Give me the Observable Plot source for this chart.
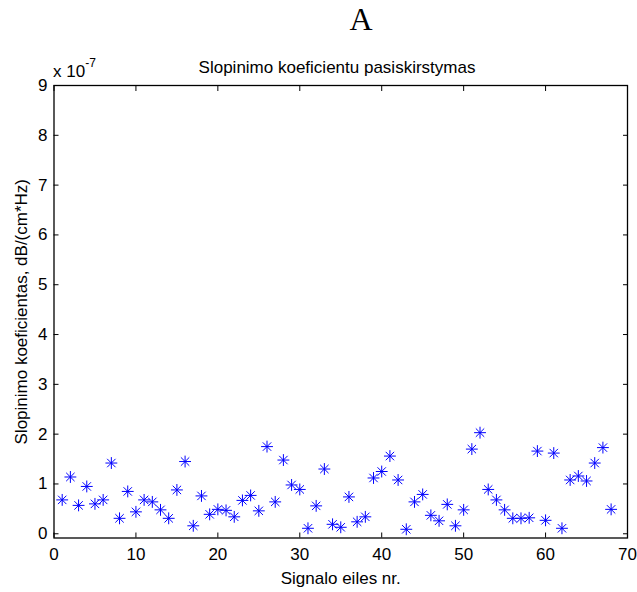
<!DOCTYPE html>
<html>
<head>
<meta charset="utf-8">
<script src="https://cdn.jsdelivr.net/npm/d3@7"></script>
<script src="https://cdn.jsdelivr.net/npm/@observablehq/plot@0.6"></script>
<style>
  html, body { margin: 0; padding: 0; background: #ffffff; }
  #chart { position: relative; width: 637px; height: 592px; }
</style>
</head>
<body>
<div id="chart"></div>
<script>
// Signal index (x) and attenuation coefficient values (in units of 1e-7 dB/(cm*Hz))
const signalNo = [1,2,3,4,5,6,7,8,9,10,11,12,13,14,15,16,17,18,19,20,
  21,22,23,24,25,26,27,28,29,30,31,32,33,34,35,36,37,38,39,40,
  41,42,43,44,45,46,47,48,49,50,51,52,53,54,55,56,57,58,59,60,
  61,62,63,64,65,66,67,68];
const slopeE7 = [0.68,1.14,0.57,0.95,0.60,0.68,1.42,0.31,0.85,0.44,
  0.68,0.64,0.48,0.31,0.88,1.45,0.16,0.76,0.39,0.49,
  0.47,0.34,0.67,0.77,0.46,1.75,0.64,1.48,0.98,0.89,
  0.11,0.56,1.30,0.19,0.13,0.74,0.24,0.34,1.12,1.25,
  1.56,1.08,0.09,0.64,0.79,0.37,0.26,0.59,0.16,0.48,
  1.70,2.03,0.89,0.68,0.48,0.31,0.31,0.32,1.66,0.27,
  1.62,0.11,1.08,1.16,1.06,1.42,1.73,0.49];
const xTicks = [0,10,20,30,40,50,60,70];
const yTicks = [0,1,2,3,4,5,6,7,8,9];
const titleText = "Slopinimo koeficientu pasiskirstymas";
const xLabel = "Signalo eiles nr.";
const yLabel = "Slopinimo koeficientas, dB/(cm*Hz)";
const panelLabel = "A";

const data = signalNo.map((n, i) => ({n, v: slopeE7[i]}));

const font = "'Liberation Sans', Arial, Helvetica, sans-serif";
const blue = "#0000ff";
const fmt = d => String(d);

const svg = Plot.plot({
  width: 637,
  height: 592,
  marginLeft: 53.5,
  marginRight: 10,
  marginTop: 85,
  marginBottom: 54.5,
  style: {fontFamily: font, fontSize: "17px", color: "#000", background: "#fff", overflow: "visible"},
  x: {domain: [0, 70], label: null},
  y: {domain: [-0.085, 9], label: null},
  marks: [
    Plot.axisX(xTicks, {anchor: "bottom", tickSize: -5, tickPadding: 15, fontSize: 17, tickFormat: fmt,
      label: xLabel, labelAnchor: "center", labelArrow: "none", labelOffset: 46}),
    Plot.axisX(xTicks, {anchor: "top", tickSize: -5, tickFormat: () => "", label: null}),
    Plot.axisY(yTicks, {anchor: "left", tickSize: -5, tickPadding: 11.5, fontSize: 17, tickFormat: fmt,
      label: yLabel, labelAnchor: "center", labelArrow: "none", labelOffset: 39.5}),
    Plot.axisY(yTicks, {anchor: "right", tickSize: -5, tickFormat: () => "", label: null}),
    Plot.frame({stroke: "#000", strokeWidth: 1.3}),
    Plot.dot(data, {x: "n", y: "v", symbol: "plus", r: 3.9, fill: "none", stroke: blue, strokeWidth: 1}),
    Plot.dot(data, {x: "n", y: "v", symbol: "times", r: 3.9, fill: "none", stroke: blue, strokeWidth: 1})
  ]
});

const root = d3.select(svg);
root.append("text")
  .attr("x", 361).attr("y", 30)
  .attr("text-anchor", "middle")
  .style("font-family", "'Liberation Serif', 'Times New Roman', serif")
  .style("font-size", "32px")
  .attr("fill", "#000")
  .text(panelLabel);
root.append("text")
  .attr("x", 337).attr("y", 72.5)
  .attr("text-anchor", "middle")
  .style("font-family", font)
  .style("font-size", "17px")
  .attr("fill", "#000")
  .text(titleText);
const mult = root.append("text")
  .attr("x", 53).attr("y", 77.3)
  .attr("text-anchor", "start")
  .style("font-family", font)
  .style("font-size", "17px")
  .attr("fill", "#000");
mult.append("tspan").text("x 10");
mult.append("tspan").attr("dy", -10).style("font-size", "12px").text("-7");

document.getElementById("chart").appendChild(svg);
</script>
</body>
</html>
